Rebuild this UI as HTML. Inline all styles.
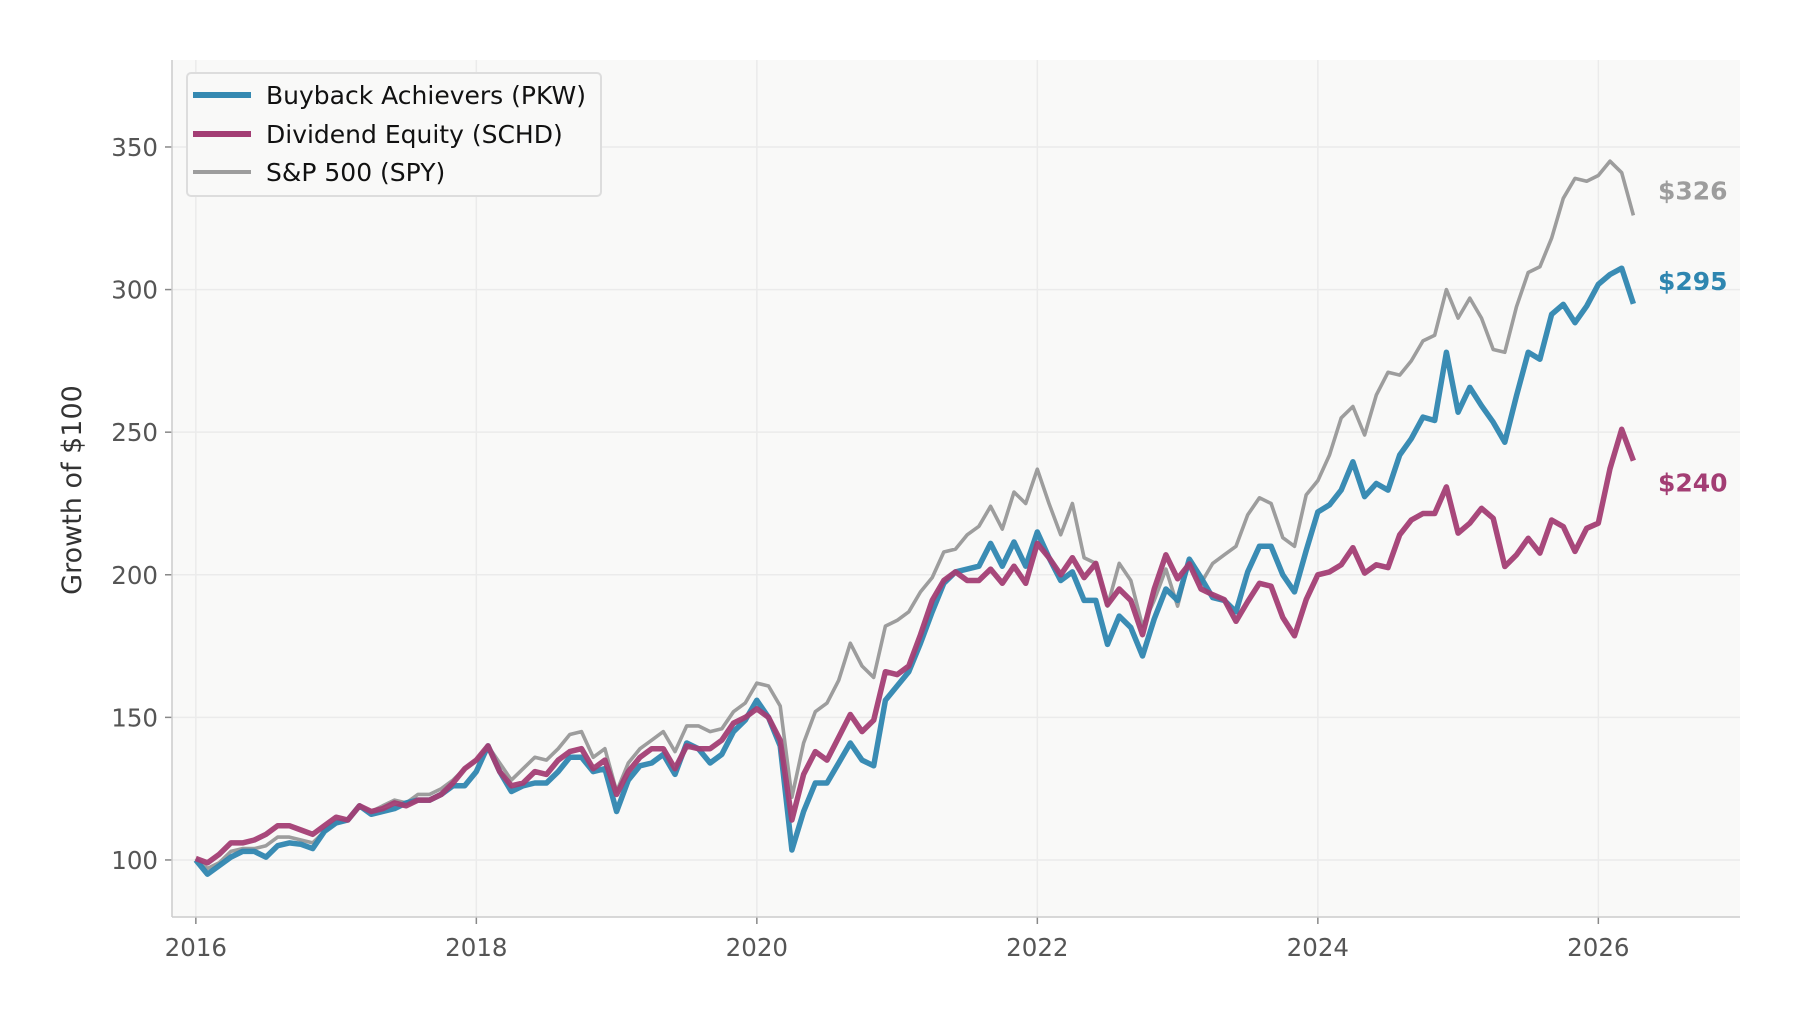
<!DOCTYPE html>
<html><head><meta charset="utf-8">
<style>
html,body{margin:0;padding:0;background:#fff;}
svg{display:block;font-family:"DejaVu Sans","Liberation Sans",sans-serif;}
</style></head>
<body>
<svg id="chart" width="1800" height="1022" viewBox="0 0 1800 1022" xmlns="http://www.w3.org/2000/svg">
<rect x="0" y="0" width="1800" height="1022" fill="#ffffff"/>
<rect x="172" y="60" width="1568" height="857" fill="#f9f9f8"/>
<g id="grid"></g>
<g id="series"></g>
<g id="axes"></g>
<text transform="translate(81,490) rotate(-90)" text-anchor="middle" font-size="27" fill="#333">Growth of $100</text>
<g>
<rect x="187" y="73" width="414" height="123" rx="4" fill="#f9f9f8" stroke="#dddddd" stroke-width="2"/>
<line x1="193" y1="95" x2="251" y2="95" stroke="#3589b1" stroke-width="6"/>
<text x="266" y="104" font-size="25" fill="#111">Buyback Achievers (PKW)</text>
<line x1="193" y1="134" x2="251" y2="134" stroke="#a33e74" stroke-width="6"/>
<text x="266" y="143" font-size="25" fill="#111">Dividend Equity (SCHD)</text>
<line x1="193" y1="172" x2="251" y2="172" stroke="#9d9d9d" stroke-width="4"/>
<text x="266" y="181" font-size="25" fill="#111">S&amp;P 500 (SPY)</text>
</g>
<g id="endlabels"></g>
</svg>
<script>
const yTicks = [100,150,200,250,300,350];
const xTicks = [2016,2018,2020,2022,2024,2026];
const spy = [100.5,97,99,103,104,104,105,108,108,107,106,110,
113,114,119,117,119,121,120,123,123,125,128,132,
135,140,134,128,132,136,135,139,144,145,136,139,
124,134,139,142,145,138,147,147,145,146,152,155,
162,161,154,122,141,152,155,163,176,168,164,182,
184,187,194,199,208,209,214,217,224,216,229,225,
237,225,214,225,206,204,189,204,198,182,191,202,
189,205,197,204,207,210,221,227,225,213,210,228,
233,242,255,259,249,263,271,270,275,282,284,300,
290,297,290,279,278,294,306,308,318,332,339,338,
340,345,341,326];
const pkw = [100,95,98,101,103,103,101,105,106,105.5,104,110,
113,114,119,116,117,118,120,121,121,123,126,126,
131,140,131,124,126,127,127,131,136,136,131,132,
117,128,133,134,137,130,141,139,134,137,145,149,
156,150,140,103.5,117,127,127,134,141,135,133,156,
161,166,176,187,197,201,202,203,211,203,211.5,203,
215,206,198,201,191,191,175.6,185.5,181.5,171.5,184.5,195,
191,205.5,199,192,191,187,201,210,210,200,194,208.5,
222,224.5,229.7,239.6,227.4,232,229.7,242,247.7,255.3,254.1,278,
257,265.7,259.3,253.5,246.5,262.8,278,275.6,291.3,294.8,288.4,294.2,
301.8,305.3,307.5,295];
const schd = [100.5,99,102,106,106,107,109,112,112,110.5,109,112,
115,114,119,117,118,120,119,121,121,123,127,132,
135,140,131,126,127,131,130,135,138,139,132,135,
123,131,136,139,139,132,140,139,139,142,148,150,
153,150,142,114,130,138,135,143,151,145,149,166,
165,168,179,191,198,201,198,198,202,197,203,197,
211,206,200,206,199,204,189.5,195,191,179,195,207,
198.6,203.8,195,193,191.3,183.7,190.6,197,196,185,178.6,191.3,
200,201,203.5,209.5,200.6,203.5,202.5,214,219.2,221.5,221.5,230.8,
214.6,218.1,223.3,219.8,202.9,207,212.8,207.6,219.2,216.9,208.2,216.3,
218.1,237.2,251,240];
const startYear = 2016;

const NS = "http://www.w3.org/2000/svg";
const X0=172, X1=1740, Y0=60, Y1=917;
const xMin=2015.83, xMax=2027.01, yMin=80, yMax=380.5;
function xs(yr){return X0+(yr-xMin)/(xMax-xMin)*(X1-X0);}
function ys(v){return Y1-(v-yMin)/(yMax-yMin)*(Y1-Y0);}
function mk(tag,attrs,parent){const e=document.createElementNS(NS,tag);for(const k in attrs)e.setAttribute(k,attrs[k]);parent.appendChild(e);return e;}
const grid=document.getElementById('grid'), axes=document.getElementById('axes'), series=document.getElementById('series'), endl=document.getElementById('endlabels');

yTicks.forEach(t=>{
  const y=ys(t);
  const g=mk('line',{x1:X0,x2:X1,y1:y,y2:y,stroke:'#ebebeb','stroke-width':1.5},grid);
  
  
  const tk=mk('line',{x1:X0-7,x2:X0,y1:y,y2:y,stroke:'#888','stroke-width':1.5},axes);
  
  
  const tx=mk('text',{x:X0-14,y:y+9,'text-anchor':'end','font-size':24.5,fill:'#555'},axes);
  tx.textContent=t;
  
  
});
xTicks.forEach(t=>{
  const x=xs(t);
  const g=mk('line',{x1:x,x2:x,y1:Y0,y2:Y1,stroke:'#ebebeb','stroke-width':1.5},grid);
  
  
  const tk=mk('line',{x1:x,x2:x,y1:Y1,y2:Y1+7,stroke:'#888','stroke-width':1.5},axes);
  
  
  const tx=mk('text',{x:x,y:Y1+39,'text-anchor':'middle','font-size':24.5,fill:'#555'},axes);
  tx.textContent=t;
  
  
});
const sl=mk('line',{x1:X0,x2:X0,y1:Y0,y2:Y1,stroke:'#cccccc','stroke-width':1.5},axes);


const sb=mk('line',{x1:X0,x2:X1,y1:Y1,y2:Y1,stroke:'#cccccc','stroke-width':1.5},axes);



function draw(vals,color,w,name,op){
  const pts=vals.map((v,i)=>xs(startYear+i/12).toFixed(1)+','+ys(v).toFixed(1)).join(' ');
  const p=mk('polyline',{points:pts,fill:'none',stroke:color,'stroke-width':w,'stroke-linejoin':'round','stroke-opacity':op},series);
  
  
  return p;
}
draw(spy,'#9d9d9d',3.6,'line-spy',1);
draw(pkw,'#2f86b0',5.5,'line-pkw',0.95);
draw(schd,'#a33e74',5.5,'line-schd',0.95);

function endLabel(vals,color,name,dy){
  const v=vals[vals.length-1];
  const t=mk('text',{x:1658,y:ys(v)+dy,'font-size':25,'font-weight':'bold',fill:color},endl);
  t.textContent='$'+Math.round(v);
  
  
}
endLabel(spy,'#9d9d9d','end-label-spy',-16);
endLabel(pkw,'#2f86b0','end-label-pkw',-14);
endLabel(schd,'#a33e74','end-label-schd',31);
</script>
</body></html>
